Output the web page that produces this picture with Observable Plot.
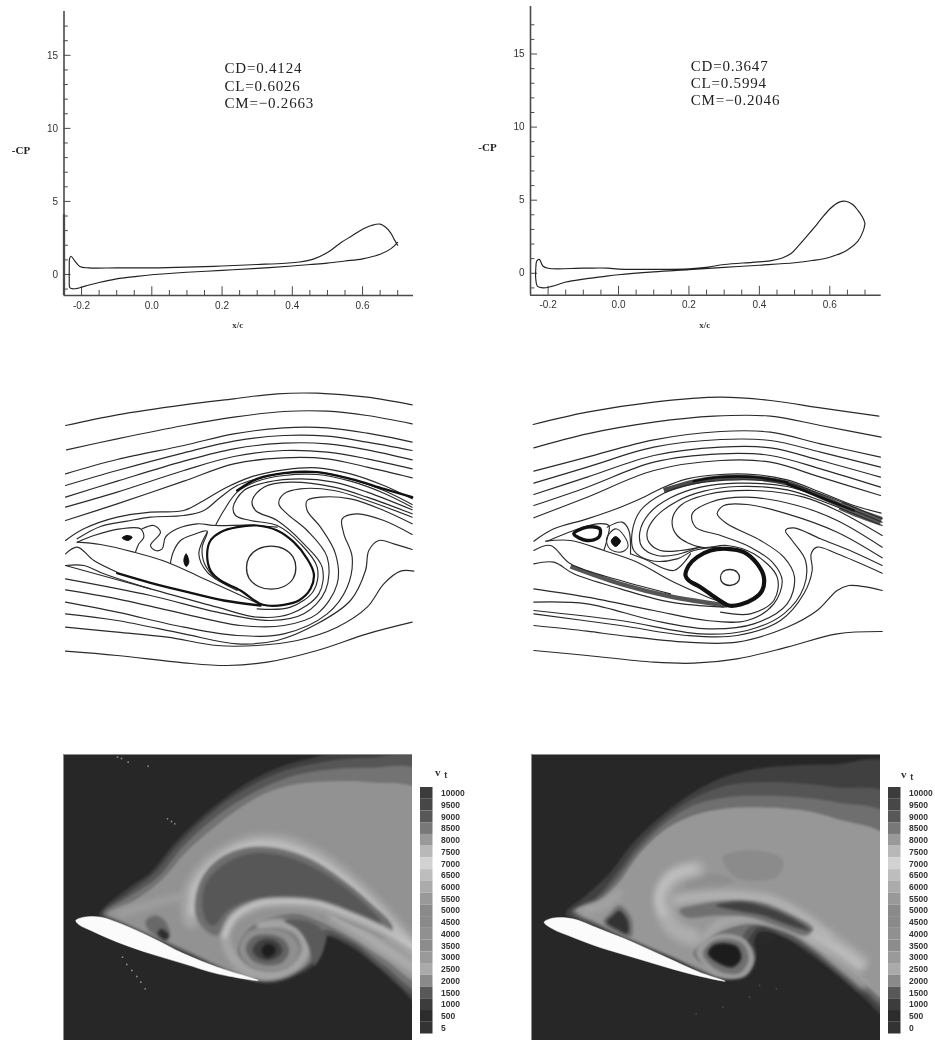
<!DOCTYPE html>
<html><head><meta charset="utf-8">
<script src="https://cdn.jsdelivr.net/npm/d3@7"></script>
<script src="https://cdn.jsdelivr.net/npm/@observablehq/plot@0.6"></script>
<style>
html,body{margin:0;padding:0;background:#fff;}
#page{position:relative;width:935px;height:1041px;overflow:hidden;}
#page>div{position:absolute;filter:blur(0.6px);}
svg{display:block;max-width:none !important;}
.stats{letter-spacing:0.8px;}
</style></head><body><div id="page"></div>
<script>
// ---------- Cp curves (x/c, -Cp)
const cpLeft=[[0.7,2.0],[0.69,2.4],[0.68,2.85],[0.665,3.25],[0.65,3.45],[0.625,3.35],[0.6,3.1],[0.57,2.65],[0.54,2.2],[0.5,1.5],[0.46,1.05],[0.42,0.85],[0.38,0.77],[0.3,0.68],[0.2,0.58],[0.1,0.5],[0,0.45],[-0.1,0.45],[-0.18,0.45],[-0.205,0.55],[-0.22,0.95],[-0.23,1.25],[-0.234,1.1],[-0.235,0.5],[-0.235,-0.3],[-0.233,-0.92],[-0.22,-0.98],[-0.19,-0.8],[-0.15,-0.55],[-0.1,-0.3],[-0.05,-0.15],[0,-0.02],[0.1,0.15],[0.2,0.28],[0.3,0.42],[0.4,0.58],[0.45,0.68],[0.5,0.78],[0.55,0.92],[0.6,1.07],[0.65,1.38],[0.68,1.75],[0.7,2.2]];
const cpRight=[[0.7,3.4],[0.695,3.75],[0.68,4.3],[0.665,4.7],[0.645,4.93],[0.625,4.85],[0.6,4.4],[0.575,3.7],[0.555,3.1],[0.53,2.4],[0.51,1.85],[0.49,1.35],[0.465,1.05],[0.43,0.85],[0.38,0.75],[0.3,0.6],[0.25,0.4],[0.2,0.3],[0.1,0.27],[0,0.28],[-0.03,0.35],[-0.1,0.35],[-0.2,0.34],[-0.215,0.5],[-0.225,0.95],[-0.232,0.85],[-0.235,0.3],[-0.235,-0.4],[-0.23,-0.9],[-0.215,-1.0],[-0.19,-0.9],[-0.15,-0.6],[-0.1,-0.4],[-0.05,-0.25],[0,-0.1],[0.1,0.1],[0.2,0.25],[0.3,0.4],[0.4,0.55],[0.5,0.72],[0.55,0.87],[0.6,1.1],[0.65,1.6],[0.68,2.2],[0.695,2.9],[0.7,3.4]];
const xMajor=[-0.2,0,0.2,0.4,0.6];
const xMinor=[-0.15,-0.1,-0.05,0.05,0.1,0.15,0.25,0.3,0.35,0.45,0.5,0.55,0.65,0.7];
const yMajor=[0,5,10,15];
const yMinor=[-1,1,2,3,4,6,7,8,9,11,12,13,14,16,17];
const statsLeft=["CD=0.4124","CL=0.6026","CM=−0.2663"];
const statsRight=["CD=0.3647","CL=0.5994","CM=−0.2046"];

// ---------- Streamlines (panel reading units)
const streamLeft=[
 [[45,225],[200,193],[400,163],[550,145],[680,130],[800,128],[950,140],[1085,163]],
 [[48,298],[200,265],[400,225],[550,200],[700,183],[830,182],[950,195],[1085,220]],
 [[45,370],[200,327],[400,285],[550,250],[700,232],[830,232],[950,248],[1085,275]],
 [[45,405],[200,360],[400,307],[550,272],[700,255],[830,257],[950,275],[1085,300]],
 [[45,440],[200,392],[400,332],[550,295],[700,278],[830,280],[950,298],[1085,328]],
 [[45,470],[200,425],[400,360],[550,318],[700,300],[830,305],[950,325],[1085,355]],
 [[45,510],[200,460],[400,392],[550,340],[700,322],[830,325],[950,350],[1085,382]],
 [[45,570],[100,535],[200,500],[300,485],[400,480],[460,450],[520,415],[600,380],[700,358],[800,352],[900,370],[1000,405],[1085,445]],
 [[80,565],[150,528],[230,512],[300,500],[400,495],[460,480],[510,440],[560,405],[620,385],[700,368],[800,365],[900,385],[1000,420],[1085,462]],
 [[495,525],[520,480],[560,425],[620,392],[700,375],[800,372],[900,392],[1000,428],[1085,470]],
 [[1085,478],[950,425],[850,395],[750,385],[650,395],[580,420],[548,470],[555,495],[600,510],[680,525],[750,580],[800,650],[790,720],[720,770],[620,775]],
 [[1085,490],[950,440],[850,410],[720,395],[640,410],[605,450],[615,480],[680,510],[760,580],[815,650],[805,730],[720,790],[620,800],[500,770],[300,715],[45,645]],
 [[1085,500],[950,450],[850,420],[750,415],[700,430],[685,460],[710,490],[770,540],[830,620],[825,720],[760,790],[660,810],[500,785],[300,735],[45,685]],
 [[1085,520],[1000,480],[900,445],[810,440],[770,450],[770,480],[810,530],[855,610],[860,700],[800,790],[700,825],[570,825],[400,790],[200,745],[45,718]],
 [[1085,552],[1000,510],[920,490],[875,505],[880,550],[905,620],[890,710],[830,790],[700,850],[560,855],[400,830],[200,785],[45,755]],
 [[1085,597],[1030,580],[985,570],[955,600],[945,660],[900,750],[800,820],[680,870],[560,880],[400,850],[200,810],[45,790]],
 [[1090,662],[1050,662],[1000,700],[950,770],[860,830],[740,870],[620,885],[500,885],[350,860],[200,845],[45,830]],
 [[45,902],[200,915],[400,937],[530,945],[650,935],[800,900],[950,850],[1085,815]],
 [[80,575],[150,582],[250,605],[350,635],[450,680],[560,730],[630,762]],
 [[80,575],[130,555],[210,535],[270,535],[280,560],[265,580],[255,605]],
 [[275,535],[310,525],[330,545],[300,585],[315,600],[335,595],[345,560],[380,535],[440,520],[495,525],[600,524],[680,530]],
 [[360,637],[368,605],[390,570],[430,552],[470,542],[455,590],[462,640],[495,685]],
 [[470,545],[445,610],[470,665],[560,720]],
 [[45,610],[80,590],[130,630],[200,665]],
 [[45,645],[100,645],[160,670],[300,715]]
];
const streamLeftHeavy=[
 [[560,420],[620,385],[700,368],[800,365],[900,385],[1000,415],[1085,440]],
 [[200,668],[300,697],[400,722],[520,750],[630,765]]
];
const vortexLeft=[[470,610],[480,570],[510,545],[560,530],[620,525],[680,540],[730,575],[770,625],[790,670],[780,715],[745,750],[700,763],[650,765],[625,758],[570,720],[510,690],[480,660]];
const coreLeft=[[662,587],[700,595],[728,620],[736,652],[728,684],[700,708],[662,716],[624,708],[596,684],[588,652],[596,620],[624,595]];
const eyesLeft=[[[215,562],[230,555],[245,560],[232,570]],[[400,630],[407,610],[415,635],[407,648]]];

const streamRight=[
 [[38,222],[200,185],[400,155],[600,140],[750,150],[900,172],[1075,197]],
 [[40,292],[200,250],[400,215],[580,197],[750,197],[900,225],[1082,260]],
 [[40,362],[200,320],[400,268],[600,243],[750,245],[900,280],[1080,320]],
 [[40,398],[200,350],[400,290],[600,267],[750,270],[900,305],[1080,350]],
 [[40,432],[200,380],[400,315],[600,290],[750,292],[900,330],[1080,380]],
 [[40,465],[200,410],[400,335],[600,310],[750,315],[900,355],[1080,410]],
 [[40,502],[200,440],[400,360],[600,330],[750,335],[900,380],[1080,435]],
 [[40,572],[100,535],[200,505],[300,470],[360,445],[430,410],[500,385],[600,372],[700,372],[800,388],[900,425],[1000,465],[1082,488]],
 [[1085,505],[1000,470],[900,430],[800,398],[650,388],[520,400],[430,428],[360,480],[335,545],[340,600],[390,630],[470,625],[520,600],[600,590]],
 [[1085,515],[1000,480],[900,440],[800,408],[650,398],[540,410],[450,442],[385,490],[358,545],[365,590],[410,615],[470,612],[530,592]],
 [[1085,525],[1000,490],[900,450],[800,418],[650,408],[550,422],[470,452],[405,500],[380,545],[385,575],[420,600],[480,600],[540,590]],
 [[1085,555],[950,480],[850,440],[700,420],[560,432],[480,465],[455,510],[470,555],[540,590],[620,585],[700,610],[770,680],[760,750],[690,790],[600,785]],
 [[1085,590],[950,510],[830,465],[680,440],[570,455],[515,490],[525,530],[600,555],[690,590],[760,640],[785,690],[760,760],[680,810],[560,810],[400,780],[200,740],[40,715]],
 [[1085,622],[950,545],[800,490],[680,462],[610,465],[590,490],[620,520],[720,570],[790,620],[822,680],[800,760],[700,820],[560,835],[400,810],[200,760],[40,755]],
 [[1085,645],[1000,605],[900,565],[820,532],[795,540],[815,570],[855,630],[850,710],[790,790],[680,840],[540,850],[300,810],[40,780]],
 [[1085,668],[950,610],[890,590],[872,610],[875,660],[850,730],[780,810],[650,855],[500,855],[300,825],[40,790]],
 [[1085,720],[1040,710],[985,705],[950,720],[890,780],[800,830],[650,875],[500,875],[300,855],[200,842],[40,825]],
 [[40,900],[200,915],[400,935],[520,938],[650,925],[800,890],[950,850],[1085,843]],
 [[75,572],[150,570],[250,600],[350,635],[450,690],[550,735],[620,762]],
 [[80,572],[160,540],[230,520],[265,525],[260,565],[250,600]],
 [[260,530],[305,515],[325,540],[330,610]],
 [[330,610],[370,625],[460,660],[510,610]],
 [[40,600],[90,585],[150,640],[300,690],[450,730]],
 [[40,640],[100,635],[160,670],[300,715],[450,755],[610,770]]
];
const streamRightHeavy=[
 [[520,392],[600,380],[700,380],[800,396]],
 [[800,400],[900,440],[1000,480]]
];
const hatchUpperRight=[[430,420],[520,394],[600,382],[700,382],[800,398],[900,438],[990,478]];
const hatchEndRight=[[960,465],[1020,490],[1082,512]];
const hatchFoilRight=[[150,648],[300,700],[450,738],[620,765]];
const vortexRight=[[495,675],[505,645],[530,620],[570,600],[620,595],[670,605],[710,640],[730,680],[725,720],[700,745],[660,762],[625,765],[590,745],[540,710],[505,690]];
const coreRight=[[628,657],[650,665],[657,682],[650,697],[628,705],[606,697],[600,682],[606,665]];
const eyeARight=[[160,550],[200,530],[238,535],[235,560],[200,570]];
const eyeBRight=[[285,558],[300,572],[285,588],[272,572]];
const ringRight=[[285,535],[310,555],[322,590],[300,605],[268,595],[258,565]];

// ---------- Colour bar
const barLabelsLeft=["10000","9500","9000","8500","8000","7500","7000","6500","6000","5500","5000","4500","4000","3500","3000","2500","2000","1500","1000","500","5"];
const barLabelsRight=["10000","9500","9000","8500","8000","7500","7000","6500","6000","5500","5000","4500","4000","3500","3000","2500","2000","1500","1000","500","0"];
const barGrays=["#3c3c3c","#474747","#585858","#787878","#999999","#b8b8b8","#d2d2d2","#bdbdbd","#ababab","#999999","#8a8a8a","#8a8a8a","#909090","#8c8c8c","#9a9a9a","#aaaaaa","#8a8a8a","#585858","#3c3c3c","#2c2c2c","#333333"];

// ---------- Contour regions, back to front [fill, points]
const fieldLeft=[
 ["#3f3f3f",[[145,525],[230,445],[300,395],[370,310],[440,240],[520,175],[610,115],[700,75],[800,48],[900,20],[1120,20],[1120,800],[1040,735],[980,680],[900,620],[825,590],[815,640],[770,690],[700,715],[620,725],[400,640],[210,555]]],
 ["#565656",[[155,520],[235,455],[310,398],[380,315],[450,245],[530,180],[620,125],[720,85],[830,62],[950,52],[1120,60],[1120,775],[1000,690],[900,610],[825,585],[810,640],[770,680],[700,708],[620,720],[400,635],[210,550]]],
 ["#737373",[[160,520],[240,465],[320,410],[395,320],[470,250],[550,190],[640,140],[730,105],[830,88],[950,82],[1120,100],[1120,755],[1000,675],[900,600],[820,570],[800,640],[760,680],[700,700],[620,718],[400,630],[210,545]]],
 ["#929292",[[170,520],[250,480],[330,420],[410,330],[490,260],[570,200],[650,155],[740,130],[850,122],[960,125],[1120,160],[1120,730],[1000,655],[900,590],[800,540],[730,520],[600,560],[560,640],[610,710],[540,690],[400,625],[210,540]]]
];
const ribbonsLeft=[
 ["#a6a6a6",46,[[420,540],[415,470],[450,400],[520,340],[610,305],[710,310],[810,355],[900,425],[990,510],[1060,590],[1110,650]]],
 ["#cdcdcd",14,[[425,520],[430,450],[490,370],[590,315],[690,315],[790,355],[890,425],[980,510],[1050,585],[1110,640]]],
 ["#acacac",34,[[850,525],[930,575],[1010,630],[1110,695]]],
 ["#a0a0a0",22,[[210,520],[270,500],[340,480],[395,470]]]
];
const innerLeft=[
 ["#6f6f6f",[[435,520],[450,420],[505,355],[590,322],[680,325],[775,355],[870,415],[950,480],[1025,560],[1005,590],[950,570],[880,540],[800,500],[720,480],[620,480],[540,520],[500,585],[465,570]]],
 ["#575757",[[455,500],[465,430],[515,375],[595,340],[680,342],[765,370],[860,425],[935,485],[990,545],[985,565],[950,550],[880,520],[800,485],[710,470],[610,475],[530,510],[490,555],[470,545]]]
];
const swirlLeft=[
 ["#a4a4a4",30,[[1110,650],[1000,578],[900,533],[800,497],[710,487],[620,497],[550,535],[525,590],[545,650],[600,695],[670,705],[730,680],[765,630],[745,575],[690,550],[630,555]]],
 ["#d0d0d0",10,[[1100,630],[1000,567],[900,522],[800,488],[710,482],[620,490],[550,530],[520,590]]]
];
const patchLeft=[
 ["#5a5a5a",[[700,540],[780,545],[825,585],[815,630],[790,675],[775,620],[745,570]]],
 ["#8f8f8f",[[650,565],[715,580],[745,625],[715,680],[650,690],[590,670],[565,625],[590,575]]],
 ["#646464",[[650,582],[695,595],[715,630],[695,665],[650,675],[605,660],[585,625],[605,590]]],
 ["#3f3f3f",[[650,595],[680,605],[695,630],[680,650],[650,660],[620,650],[605,630],[620,605]]],
 ["#1d1d1d",[[655,610],[675,625],[665,645],[645,650],[632,630],[640,615]]],
 ["#696969",[[315,525],[345,545],[355,585],[325,590],[290,565],[285,540]]],
 ["#2e2e2e",[[330,565],[355,585],[345,600],[320,580]]]
];
const foilLeft=[[75,540],[100,530],[150,530],[210,550],[300,590],[400,640],[500,680],[622,720],[500,700],[400,670],[300,640],[200,605],[120,570],[85,553]];
const specksLeft=[[200,50],[212,54],[232,65],[292,77],[350,235],[362,243],[372,250],[215,650],[228,672],[243,690],[258,708],[270,725],[283,745]];

const fieldRight=[
 ["#404040",[[150,520],[210,465],[280,400],[340,320],[420,240],[510,170],[610,115],[720,85],[830,75],[950,72],[1130,75],[1130,840],[1040,770],[960,700],[880,640],[800,590],[735,575],[715,600],[720,650],[690,700],[640,718],[450,650],[250,565]]],
 ["#555555",[[165,515],[240,470],[300,400],[360,320],[440,240],[530,175],[630,135],[730,125],[850,128],[960,140],[1130,170],[1130,815],[1000,715],[900,640],[800,585],[730,560],[700,590],[640,712],[450,645],[250,560]]],
 ["#6f6f6f",[[172,512],[245,475],[302,415],[365,330],[445,250],[530,195],[630,170],[730,165],[850,170],[960,185],[1130,235],[1130,800],[1000,705],[900,630],[800,575],[700,560],[630,705],[450,640],[250,555]]],
 ["#979797",[[180,510],[250,480],[305,430],[370,340],[450,265],[530,225],[620,205],[720,200],[850,208],[960,235],[1130,305],[1130,785],[1000,690],[900,620],[800,570],[700,550],[580,590],[530,640],[610,705],[450,640],[250,550]]],
 ["#8b8b8b",[[620,350],[720,330],[800,360],[780,410],[660,410]]],
 ["#8f8f8f",[[510,420],[590,400],[650,420],[600,450],[520,450]]]
];
const ribbonsRight=[
 ["#adadad",52,[[540,385],[470,410],[440,470],[470,560],[530,590]]],
 ["#c6c6c6",18,[[530,385],[470,405],[430,460],[440,520]]],
 ["#a6a6a6",36,[[470,480],[570,462],[660,462],[770,480],[860,530],[960,600],[1040,660]]],
 ["#c4c4c4",10,[[480,480],[560,470],[650,468],[760,480],[860,530],[940,590]]],
 ["#bdbdbd",34,[[880,580],[960,625],[1030,675]]],
 ["#a8a8a8",18,[[210,510],[260,495],[310,460]]],
 ["#adadad",20,[[550,640],[570,590],[620,545],[720,530],[830,560],[940,650],[1040,735]]]
];
const coreBandRight=[
 ["#707070",[[490,510],[560,490],[640,480],[730,485],[810,515],[890,565],[870,585],[790,560],[700,530],[600,525],[510,530]]],
 ["#414141",[[600,495],[680,485],[750,500],[830,535],[880,570],[820,555],[740,525],[660,510]]]
];
const swirlRight=[
 ["#9c9c9c",[[630,580],[690,600],[715,655],[690,705],[635,715],[575,690],[545,640],[575,595]]],
 ["#6f6f6f",[[630,595],[680,610],[697,655],[675,695],[635,700],[590,680],[560,640],[585,605]]],
 ["#1c1c1c",[[630,608],[665,620],[675,655],[650,680],[610,670],[575,640],[590,615]]],
 ["#2a2a2a",[[725,580],[780,590],[760,610],[725,610]]],
 ["#707070",[[310,495],[345,530],[345,590],[300,575],[262,545],[285,515]]],
 ["#323232",[[310,510],[335,540],[335,580],[300,565],[272,545],[290,525]]]
];
const foilRight=[[85,545],[110,533],[170,535],[250,565],[350,605],[450,650],[550,695],[627,722],[550,707],[450,680],[350,650],[250,620],[170,590],[110,565]];
const specksRight=[[730,735],[700,770],[620,800],[540,820],[780,745]];

// ---------- Helpers
const page=document.getElementById("page");
function place(el,left,top,w){const d=document.createElement("div");d.style.left=left+"px";d.style.top=top+"px";d.style.width=w+"px";d.appendChild(el);page.appendChild(d);}
const axisColor="#4a4a4a";
function cpPanel(curve,stats,o){
  const tickX=(o.yDom[1]-o.yDom[0])*0.022, tickY=(o.xDom[1]-o.xDom[0])*0.0125;
  return Plot.plot({
    width:o.w,height:o.h,marginLeft:o.ml,marginRight:o.mr,marginTop:o.mt,marginBottom:o.mb,
    style:{background:"transparent",fontFamily:"'Liberation Sans',sans-serif"},
    x:{domain:o.xDom,axis:null},y:{domain:o.yDom,axis:null},
    marks:[
      Plot.axisX(xMajor,{anchor:"bottom",tickSize:0,tickPadding:6,fontSize:10,label:null,color:"#333",tickFormat:d=>d.toFixed(1)}),
      Plot.axisY(yMajor,{anchor:"left",tickSize:0,tickPadding:6,fontSize:10,label:null,color:"#333"}),
      Plot.ruleX([o.xDom[0]],{y1:o.yDom[0],y2:o.yDom[1],stroke:axisColor,strokeWidth:1.6}),
      Plot.ruleX([o.xDom[0]],{y1:o.yDom[0],y2:o.thickTo,stroke:axisColor,strokeWidth:2.3}),
      Plot.ruleY([o.yDom[0]],{x1:o.xDom[0],x2:o.xDom[1],stroke:axisColor,strokeWidth:1.6}),
      Plot.ruleX(xMajor,{y1:o.yDom[0],y2:o.yDom[0]+tickX*1.4,stroke:axisColor,strokeWidth:1}),
      Plot.ruleX(xMinor,{y1:o.yDom[0],y2:o.yDom[0]+tickX*0.8,stroke:axisColor,strokeWidth:1}),
      Plot.ruleY(yMajor,{x1:o.xDom[0],x2:o.xDom[0]+tickY*1.6,stroke:axisColor,strokeWidth:1}),
      Plot.ruleY(yMinor,{x1:o.xDom[0],x2:o.xDom[0]+tickY,stroke:axisColor,strokeWidth:1}),
      Plot.line(curve,{x:"0",y:"1",stroke:"#222",strokeWidth:1.15,curve:"catmull-rom"}),
      Plot.text([stats.join("\n")],{x:()=>o.statX,y:()=>o.statY,text:d=>d,textAnchor:"start",lineHeight:1.16,className:"stats",fontFamily:"'Liberation Serif',serif",fontSize:15,fill:"#222"}),
      Plot.text(["-CP"],{x:()=>o.xDom[0],y:()=>o.cpY,dx:o.cpDx,textAnchor:"middle",fontFamily:"'Liberation Serif',serif",fontWeight:"bold",fontSize:11,fill:"#222"}),
      Plot.text(["x/c"],{x:()=>o.lblX,y:()=>o.yDom[0],dy:30,textAnchor:"middle",fontFamily:"'Liberation Serif',serif",fontWeight:"bold",fontSize:9,fill:"#333"})
    ]});
}
function streamPanel(thin,heavy,vortex,core,extra){
  const rows=(a)=>a.flatMap((l,i)=>l.map(p=>({x:p[0],y:p[1],id:i})));
  return Plot.plot({
    width:380,height:320,margin:0,style:{background:"transparent"},
    x:{domain:[0,1140],axis:null},y:{domain:[960,0],axis:null},
    marks:[
      ...(extra.before||[]),
      Plot.line(rows(thin),{x:"x",y:"y",z:"id",stroke:"#2a2a2a",strokeWidth:1.15,curve:"catmull-rom"}),
      Plot.line(rows(heavy),{x:"x",y:"y",z:"id",stroke:"#111",strokeWidth:2.4,curve:"catmull-rom"}),
      Plot.line(vortex,{x:"0",y:"1",stroke:"#111",strokeWidth:extra.vortexWidth,curve:"catmull-rom-closed"}),
      Plot.line(core,{x:"0",y:"1",stroke:"#2a2a2a",strokeWidth:1.3,curve:"catmull-rom-closed"}),
      ...extra.marks
    ]});
}
function blob(pts,fill,stroke,sw){return Plot.line(pts,{x:"0",y:"1",fill:fill,stroke:stroke||"none",strokeWidth:sw||0,curve:"catmull-rom-closed"});}
function band(pts,color,w){return Plot.line(pts,{x:"0",y:"1",stroke:color,strokeWidth:w,strokeLinecap:"butt",curve:"catmull-rom"});}
function fieldPanel(xDom,groups,foil,specks,speckFill){
  return Plot.plot({
    width:349,height:286,margin:0,style:{background:"transparent"},
    x:{domain:xDom,axis:null},y:{domain:[900,42],axis:null},
    marks:[
      Plot.frame({fill:"#272727",stroke:"none"}),
      ...groups,
      Plot.line(foil,{x:"0",y:"1",fill:"#fbfbfb",stroke:"#f4f4f4",strokeWidth:0.5,curve:"catmull-rom-closed",clip:"frame"}),
      Plot.dot(specks,{x:"0",y:"1",r:0.9,fill:speckFill,clip:"frame"}),
      Plot.frame({stroke:"#8c8c8c",strokeWidth:1})
    ]});
}
function layer(list,b){return list.map(([f,p])=>Plot.line(p,{x:"0",y:"1",fill:f,curve:"catmull-rom-closed",clip:"frame",imageFilter:`blur(${b}px)`}));}
function strips(list,b){return list.map(([c,w,p])=>Plot.line(p,{x:"0",y:"1",stroke:c,strokeWidth:w/3,curve:"catmull-rom",clip:"frame",imageFilter:`blur(${b}px)`}));}
function barPanel(labels,sub){
  const rows=labels.map((l,i)=>({l,g:barGrays[i]}));
  return Plot.plot({
    width:58,height:246.5+24,marginTop:24,marginBottom:0,marginLeft:0,marginRight:45.5,
    style:{background:"transparent",fontFamily:"'Liberation Sans',sans-serif"},
    x:{domain:["bar"],padding:0,round:false,axis:null},
    y:{domain:labels,padding:0,round:false,axis:null},
    marks:[
      Plot.cell(rows,{x:()=>"bar",y:"l",fill:"g"}),
      Plot.axisY(labels,{anchor:"right",tickSize:0,tickPadding:8,fontSize:8.5,fontWeight:"bold",color:"#333",label:null}),
      Plot.text(["v"],{x:()=>"bar",y:()=>labels[0],dx:sub.dx,dy:sub.dy,fontSize:11,fontWeight:"bold",fill:"#333",fontFamily:"'Liberation Serif',serif"}),
      Plot.text(["t"],{x:()=>"bar",y:()=>labels[0],dx:sub.dx+8,dy:sub.dy+3,fontSize:9,fontWeight:"bold",fill:"#333"})
    ]});
}

// ---------- Assembly
place(cpPanel(cpLeft,statsLeft,{w:450,h:340,ml:63.5,mr:37,mt:11,mb:45,xDom:[-0.25,0.745],yDom:[-1.44,18],statX:0.207,statY:12.95,cpY:8.5,cpDx:-43,lblX:0.245,thickTo:4.1}),0,0,450);
place(cpPanel(cpRight,statsRight,{w:465,h:340,ml:60,mr:54.3,mt:6,mb:45.3,xDom:[-0.25,0.746],yDom:[-1.5,18.25],statX:0.205,statY:13.05,cpY:8.6,cpDx:-43,lblX:0.245,thickTo:-1.5}),470,0,465);

place(streamPanel(streamLeft,streamLeftHeavy,vortexLeft,coreLeft,{vortexWidth:2.2,marks:eyesLeft.map(e=>blob(e,"#111","#111",1))}),50,350,380);
place(streamPanel(streamRight,streamRightHeavy,vortexRight,coreRight,{vortexWidth:4.2,
  before:[band(hatchUpperRight,"#4a4a4a",5),band(hatchEndRight,"#5a5a5a",9),band(hatchFoilRight,"#555",4.5)],
  marks:[blob(eyeARight,"none","#111",3.4),blob(eyeBRight,"#111","#111",1),blob(ringRight,"none","#333",1.1)]}),520,350,380);

place(fieldPanel([38,1085],[...layer(fieldLeft,1.2),...strips(ribbonsLeft,3),...layer(innerLeft,1.5),...strips(swirlLeft,2),...layer(patchLeft,1.5)],foilLeft,specksLeft,"#8a8a8a"),62.7,754,349);
place(fieldPanel([47,1092],[...layer(fieldRight,1.2),...strips(ribbonsRight,3.5),...layer(coreBandRight,1.5),...layer(swirlRight,1.5)],foilRight,specksRight,"#4a4a4a"),530.7,754,349);

place(barPanel(barLabelsLeft,{dx:11,dy:-21}),420,763,58);
place(barPanel(barLabelsRight,{dx:9,dy:-19}),887.5,763,47.5);
</script></body></html>
